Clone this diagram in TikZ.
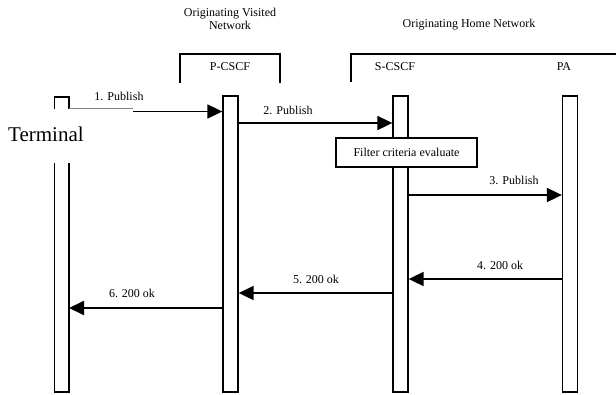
\documentclass[tikz,border=0pt]{standalone}
\usepackage{fontspec}
\setmainfont{Liberation Serif}
\usetikzlibrary{arrows.meta}

\tikzset{
	head/.style={font=\fontsize{12}{13}\selectfont, align=center, inner sep=0pt},
	txt/.style={font=\fontsize{12}{13}\selectfont, inner sep=0pt},
	frame/.style={line width=1.3pt},
	bar/.style={draw, line width=1.3pt, fill=white, minimum width=15pt, minimum height=296pt, inner sep=0pt},
	msg/.style={line width=1.8pt, -{Triangle[length=15pt,width=14pt]}},
}

\begin{document}
\begin{tikzpicture}[x=1pt, y=-1pt]
			%%%%% START %%%%%
			\useasboundingbox (0,0) rectangle (616,394);

			\node[head] (visitedNet) at (230,19) {Originating Visited\\Network};
			\node[head] (homeNet) at (469,25) {Originating Home Network};

			\draw[frame] (180,83) -- (180,54) -- (280,54) -- (280,83);
			\draw[frame] (351,82) -- (351,54) -- (616,54);

			\node[txt] (pcscfLbl) at (230,67) {P-CSCF};
			\node[txt] (scscfLbl) at (395,67) {S-CSCF};
			\node[txt] (paLbl) at (564,67) {PA};

			% terminal, broken by its label
			\draw[frame] (54.5,109) -- (54.5,97) -- (69,97) -- (69,109);
			\draw[frame] (54.5,163) -- (54.5,392) -- (69,392) -- (69,163);
			\coordinate (term) at (69,200);
			\node[font=\fontsize{21}{23}\selectfont, anchor=west, inner sep=0pt] (termLbl) at (8,134) {Terminal};

			\node[bar] (pcscf) at (230.5,244) {};
			\node[bar] (scscf) at (400.5,244) {};
			\node[bar] (pa) at (570,244) {};

			\node[draw, fill=white, line width=1.3pt, minimum width=141pt, minimum height=29pt, txt] (filter) at (406.5,152.5) {Filter criteria evaluate};

			% message rows
			\coordinate (m1) at (133,111.5);
			\coordinate (m2) at (0,123);
			\coordinate (m3) at (0,195);
			\coordinate (m4) at (0,279);
			\coordinate (m5) at (0,293);
			\coordinate (m6) at (0,308);

			\draw[gray, line width=0.8pt] (term |- 0,108.5) -- (m1 |- 0,108.5);
			\draw[msg] (m1) -- (pcscf.west |- m1);
			\draw[msg] (pcscf.east |- m2) -- (scscf.west |- m2);
			\draw[msg] (scscf.east |- m3) -- (pa.west |- m3);
			\draw[msg] (pa.west |- m4) -- (scscf.east |- m4);
			\draw[msg] (scscf.west |- m5) -- (pcscf.east |- m5);
			\draw[msg] (pcscf.west |- m6) -- (term |- m6);

			\node[txt] (lbl1) at (119,96) {1. Publish};
			\node[txt] (lbl2) at (288,110) {2. Publish};
			\node[txt] (lbl3) at (514,180) {3. Publish};
			\node[txt] (lbl4) at (500,265) {4. 200 ok};
			\node[txt] (lbl5) at (316,279) {5. 200 ok};
			\node[txt] (lbl6) at (132,293) {6. 200 ok};
			%%%%% END %%%%%
\end{tikzpicture}
\end{document}
